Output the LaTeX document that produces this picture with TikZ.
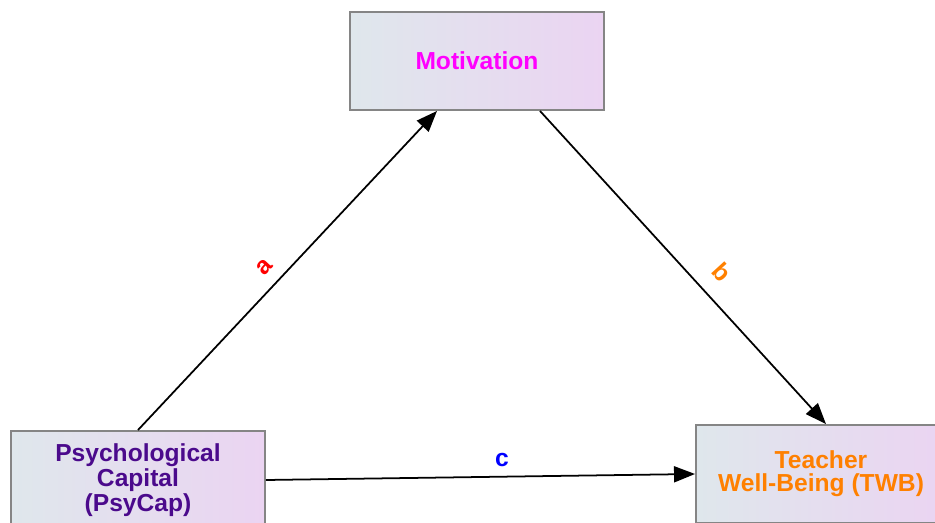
\documentclass[tikz,border=0pt]{standalone}
\usepackage{fontspec}
\setsansfont{Liberation Sans}
\usetikzlibrary{arrows.meta, positioning, calc}
\definecolor{cmag}{HTML}{FF00FF}
\definecolor{cpurple}{HTML}{4B0A8C}
\definecolor{corange}{HTML}{FF8000}
\definecolor{cred}{HTML}{FF0000}
\definecolor{cblue}{HTML}{0000FF}
\definecolor{cgrey}{HTML}{858585}
\definecolor{cleft}{HTML}{DFE7EC}
\definecolor{cright}{HTML}{EBD4F2}
\tikzset{
  every picture/.style={font=\sffamily\bfseries},
  box/.style={draw=cgrey, line width=1.1pt, left color=cleft, right color=cright,
    minimum width=5.08cm, minimum height=1.96cm, align=center, text=#1,
    font=\sffamily\bfseries\fontsize{14}{13}\selectfont},
  box/.default=black,
  arrow/.style={-{Triangle[length=4.2mm, width=3.2mm]}, draw=black, line width=1pt},
  lbl/.style={font=\sffamily\bfseries\fontsize{14}{14}\selectfont, text=#1},
}

\begin{document}
\begin{tikzpicture}
  \useasboundingbox (0,0) rectangle (18.7,-10.46);
  % nodes
  \node[box=cmag] (mot) at (9.54,-1.22) {Motivation};
  \node[box=cpurple] (psy) at (2.76,-9.6) {Psychological\\Capital\\(PsyCap)};
  \node[box=corange, minimum width=5.0cm] (twb) at (16.42,-9.48) {Teacher\\Well-Being (TWB)};
  % paths
  \draw[arrow] (psy.north) -- node[lbl=cred, sloped, above=3pt, pos=0.47] (la) {a} ($(mot.south)+(-0.8,0)$);
  \draw[arrow] ($(mot.south)+(1.26,0)$) -- node[lbl=corange, sloped, above=6pt, pos=0.57] (lb) {b} ($(twb.north)+(0.1,0)$);
  \draw[arrow] (psy.east) -- node[lbl=cblue, above=2pt, pos=0.55] (lc) {c} (twb.west);
\end{tikzpicture}
\end{document}
